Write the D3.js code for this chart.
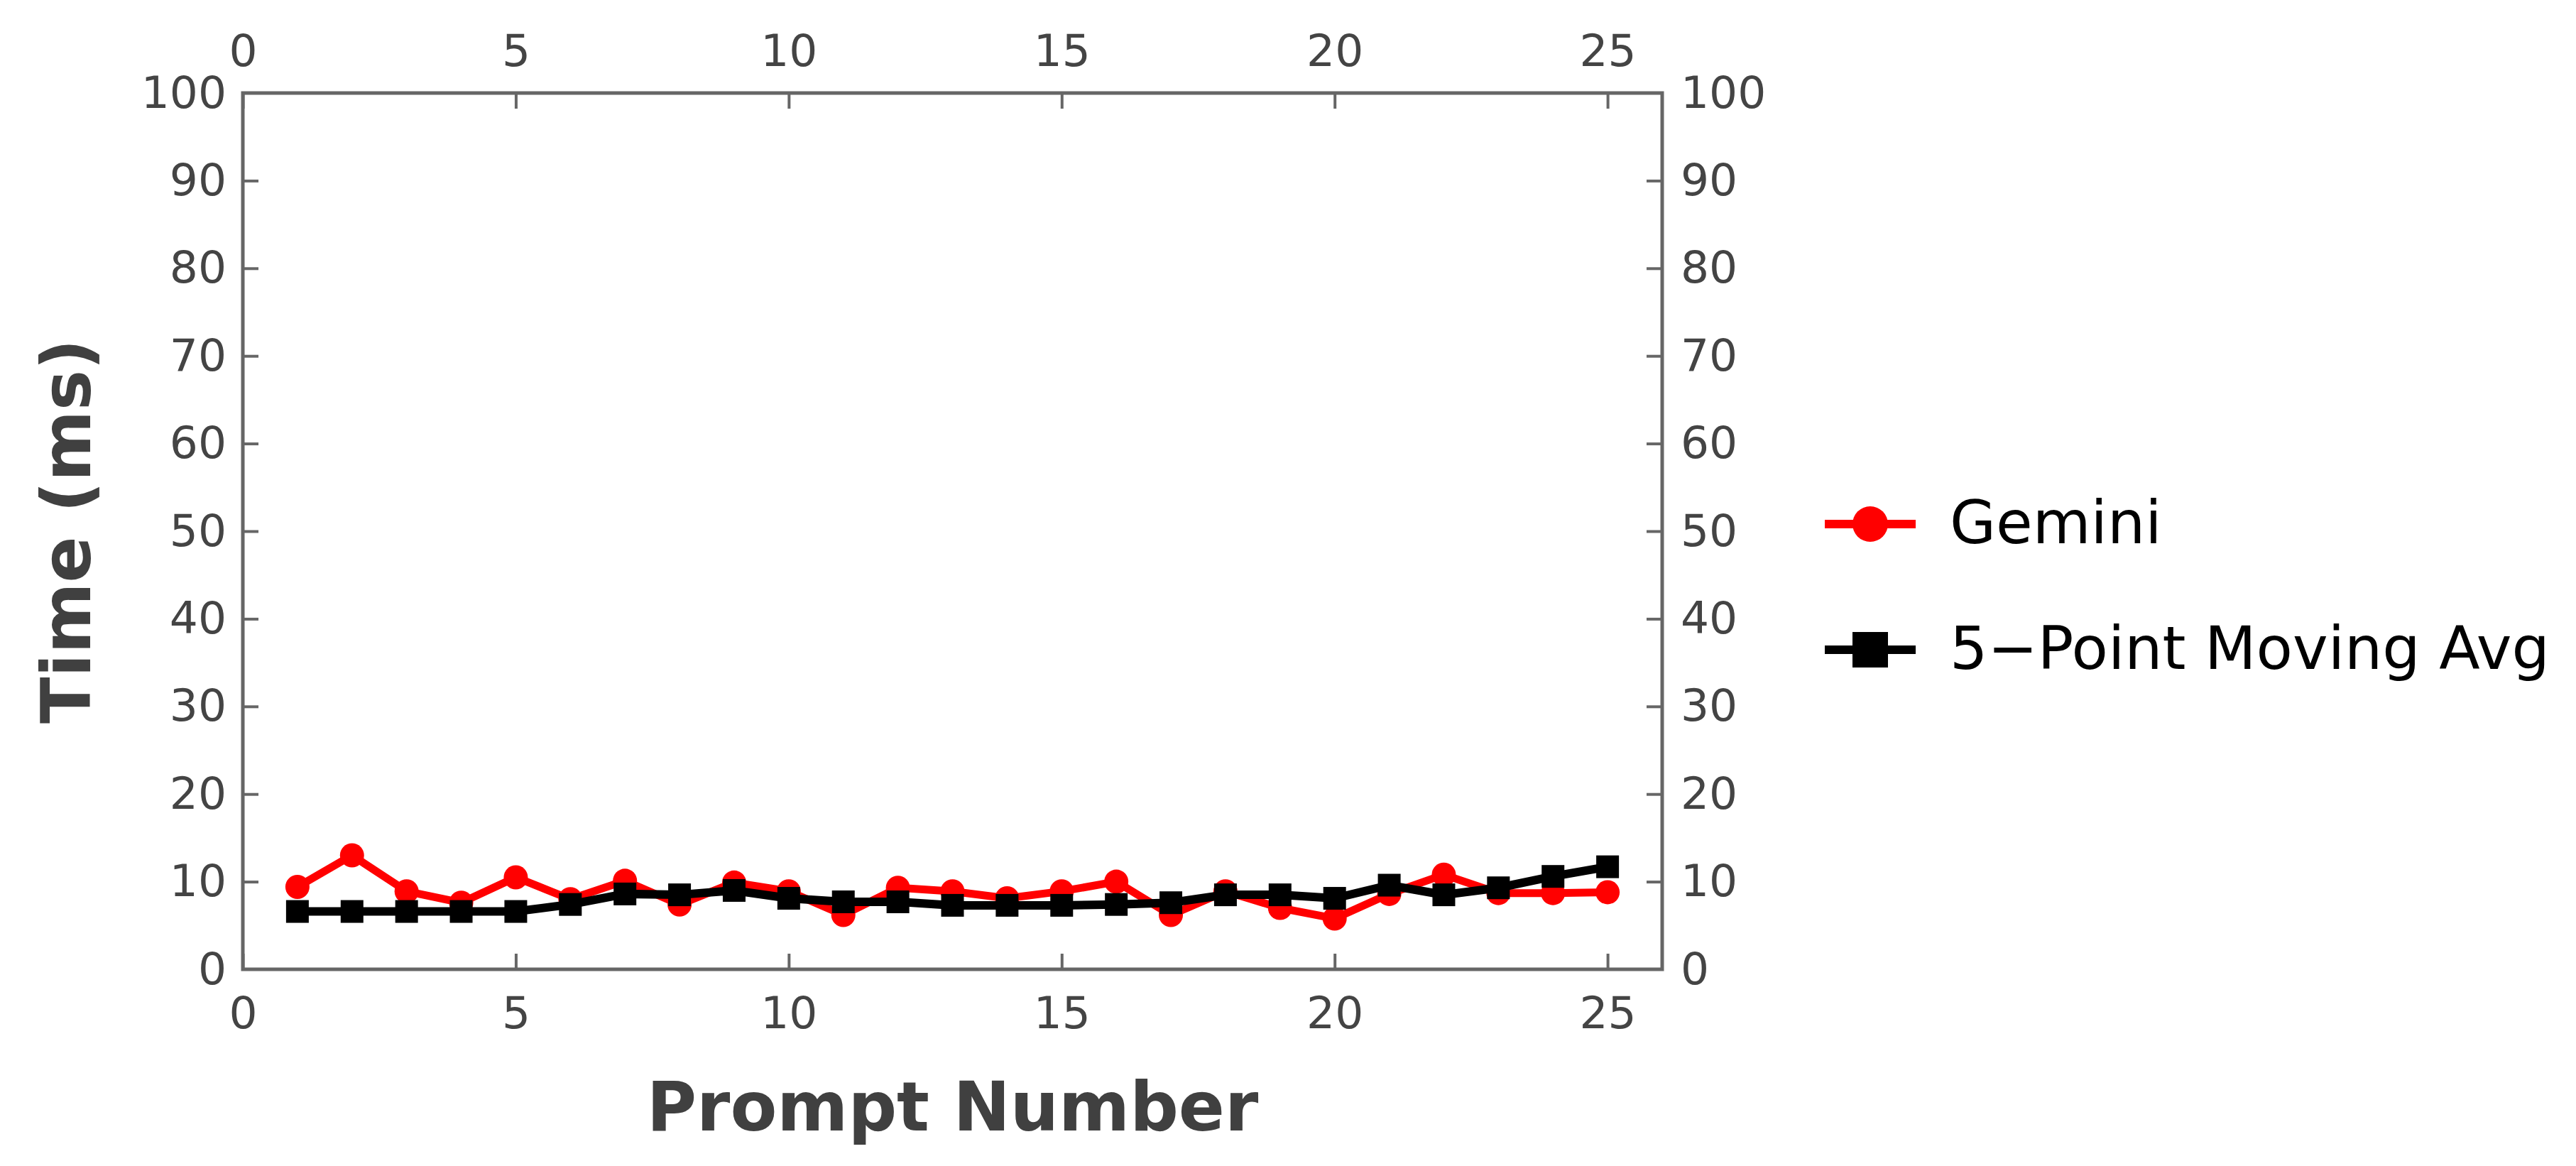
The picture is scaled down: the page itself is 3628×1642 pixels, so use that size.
<!DOCTYPE html>
<html>
<head>
<meta charset="utf-8">
<script src="https://cdn.jsdelivr.net/npm/d3@7"></script>
<style>
  body { margin: 0; background: #fff; }
  text { font-family: "DejaVu Sans", sans-serif; }
  .tick text { fill: #444; font-size: 63px; }
  .axis-title { fill: #404040; font-size: 96px; font-weight: bold; }
  .legend text { fill: #000; font-size: 84px; }
</style>
</head>
<body>
<svg width="3628" height="1642"></svg>
<script>
// data
var prompts = d3.range(1, 26);
var gemini = [9.4, 13.0, 8.9, 7.6, 10.5, 8.0, 10.1, 7.4, 9.9, 8.9,
              6.2, 9.3, 8.9, 8.1, 8.9, 10.0, 6.2, 8.9, 7.0, 5.8,
              8.6, 10.8, 8.7, 8.7, 8.8];
var movingAvg = [6.6, 6.6, 6.6, 6.6, 6.6, 7.4, 8.6, 8.5, 9.0, 8.1,
                 7.7, 7.7, 7.3, 7.3, 7.3, 7.4, 7.6, 8.5, 8.5, 8.1,
                 9.6, 8.5, 9.3, 10.6, 11.7];
var xTicks = [0, 5, 10, 15, 20, 25];
var yTicks = [0, 10, 20, 30, 40, 50, 60, 70, 80, 90, 100];
var seriesNames = ["Gemini", "5\u2212Point Moving Avg"];

var svg = d3.select("svg"),
    margin = {top: 131, right: 1287, bottom: 277, left: 342},
    width = +svg.attr("width") - margin.left - margin.right,
    height = +svg.attr("height") - margin.top - margin.bottom;

var g = svg.append("g")
    .attr("transform", "translate(" + margin.left + "," + margin.top + ")");

var x = d3.scaleLinear().domain([0, 26]).range([0, width]);
var y = d3.scaleLinear().domain([0, 100]).range([height, 0]);

var axisColor = "#666";

// axes on all four sides, ticks pointing inward
function styleAxis(sel) {
  sel.select(".domain").remove();
  sel.selectAll(".tick line").attr("stroke", axisColor).attr("stroke-width", 4);
}

g.append("g")
    .attr("transform", "translate(0," + height + ")")
    .call(d3.axisBottom(x).tickValues(xTicks).tickSize(-22).tickPadding(38))
    .call(styleAxis);

g.append("g")
    .call(d3.axisTop(x).tickValues(xTicks).tickSize(-22).tickPadding(38))
    .call(styleAxis);

g.append("g")
    .call(d3.axisLeft(y).tickValues(yTicks).tickSize(-22).tickPadding(23))
    .call(styleAxis)
    .call(function (s) { s.selectAll(".tick").filter(function (d) { return d === 0 || d === 100; }).select("line").remove(); });

g.append("g")
    .attr("transform", "translate(" + width + ",0)")
    .call(d3.axisRight(y).tickValues(yTicks).tickSize(-22).tickPadding(26))
    .call(styleAxis)
    .call(function (s) { s.selectAll(".tick").filter(function (d) { return d === 0 || d === 100; }).select("line").remove(); });

// frame
g.append("rect")
    .attr("width", width)
    .attr("height", height)
    .attr("fill", "none")
    .attr("stroke", axisColor)
    .attr("stroke-width", 5);

var line = d3.line()
    .x(function (d, i) { return x(prompts[i]); })
    .y(function (d) { return y(d); });

// Gemini series
g.append("path")
    .datum(gemini)
    .attr("fill", "none")
    .attr("stroke", "#ff0000")
    .attr("stroke-width", 11)
    .attr("d", line);

g.append("g")
    .selectAll("circle")
    .data(gemini)
    .enter().append("circle")
    .attr("cx", function (d, i) { return x(prompts[i]); })
    .attr("cy", function (d) { return y(d); })
    .attr("r", 17)
    .attr("fill", "#ff0000");

// moving average series, drawn on top
g.append("path")
    .datum(movingAvg)
    .attr("fill", "none")
    .attr("stroke", "#000")
    .attr("stroke-width", 12)
    .attr("d", line);

g.append("g")
    .selectAll("rect")
    .data(movingAvg)
    .enter().append("rect")
    .attr("x", function (d, i) { return x(prompts[i]) - 16; })
    .attr("y", function (d) { return y(d) - 16; })
    .attr("width", 32)
    .attr("height", 32)
    .attr("fill", "#000");

// axis titles
svg.append("text")
    .attr("class", "axis-title")
    .attr("x", margin.left + width / 2)
    .attr("y", 1592)
    .attr("text-anchor", "middle")
    .text("Prompt Number");

svg.append("text")
    .attr("class", "axis-title")
    .attr("transform", "translate(127," + (margin.top + height / 2) + ") rotate(-90)")
    .attr("text-anchor", "middle")
    .text("Time (ms)");

// legend
var legend = svg.append("g")
    .attr("class", "legend")
    .attr("transform", "translate(2570,738)");

var item = legend.selectAll("g")
    .data(seriesNames)
    .enter().append("g")
    .attr("transform", function (d, i) { return "translate(0," + i * 177 + ")"; });

item.append("line")
    .attr("x1", 0).attr("x2", 128)
    .attr("stroke", function (d, i) { return i === 0 ? "#ff0000" : "#000"; })
    .attr("stroke-width", 12);

item.filter(function (d, i) { return i === 0; })
    .append("circle")
    .attr("cx", 64)
    .attr("r", 25)
    .attr("fill", "#ff0000");

item.filter(function (d, i) { return i === 1; })
    .append("rect")
    .attr("x", 39).attr("y", -25)
    .attr("width", 50).attr("height", 50)
    .attr("fill", "#000");

item.append("text")
    .attr("x", 176)
    .attr("dy", "0.32em")
    .text(function (d) { return d; });
</script>
</body>
</html>
